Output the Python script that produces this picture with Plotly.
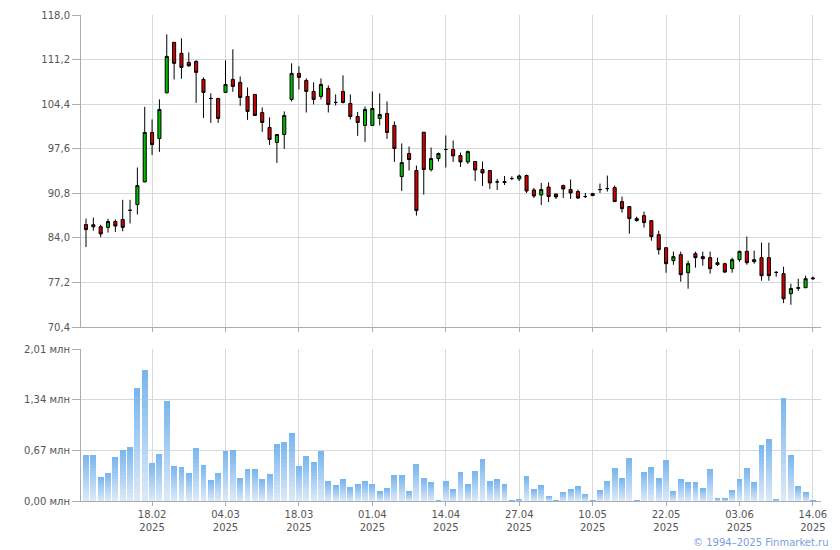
import plotly.graph_objects as go

# ---------------- data ----------------
tick_pos = [9, 19, 29, 39, 49, 59, 69, 79, 89, 99]
tick_dates = ["18.02", "04.03", "18.03", "01.04", "14.04", "27.04", "10.05", "22.05", "03.06", "14.06"]
tick_year = "2025"

price_ticks = [70.4, 77.2, 84.0, 90.8, 97.6, 104.4, 111.2, 118.0]
vol_ticks = [0.0, 0.67, 1.34, 2.01]

opens = [86.02, 86.00, 85.70, 85.60, 86.50, 86.80, 88.20, 89.07, 92.53, 100.08,
         99.16, 106.13, 113.83, 112.15, 110.77, 110.93, 108.17, 105.27, 105.27, 106.19,
         108.17, 107.72, 105.58, 105.88, 103.13, 100.84, 98.55, 99.77, 105.12, 109.09,
         108.02, 106.34, 105.58, 106.80, 104.66, 106.34, 104.51, 102.51, 101.15, 101.15,
         102.22, 102.98, 101.15, 93.35, 96.87, 94.27, 100.12, 94.42, 96.10, 97.48,
         97.48, 96.56, 95.58, 95.65, 94.42, 94.27, 92.53, 92.60, 93.05, 92.99,
         93.51, 91.31, 90.54, 91.76, 90.70, 91.98, 91.37, 91.06, 90.30, 90.45,
         91.37, 91.52, 91.67, 89.53, 88.77, 86.63, 87.39, 86.63, 84.49, 82.50,
         80.52, 81.44, 78.68, 81.59, 81.13, 80.98, 79.91, 80.06, 79.30, 80.67,
         81.94, 80.37, 80.98, 80.98, 78.73, 78.53, 75.48, 76.30, 76.39, 77.75]
highs = [86.94, 87.10, 86.00, 86.90, 86.80, 89.80, 89.80, 94.73, 103.99, 102.06,
         105.12, 115.05, 113.83, 114.44, 112.30, 111.08, 108.48, 106.04, 105.27, 111.08,
         112.76, 108.63, 106.95, 105.95, 103.90, 102.37, 99.77, 103.29, 110.62, 110.16,
         108.33, 107.72, 108.33, 107.26, 105.88, 108.79, 105.88, 103.22, 104.05, 106.34,
         106.04, 104.81, 101.76, 98.40, 97.94, 95.03, 100.12, 97.79, 97.02, 99.62,
         98.85, 97.02, 97.33, 95.65, 95.65, 94.27, 92.99, 93.44, 93.40, 93.66,
         93.66, 91.61, 92.38, 92.48, 90.70, 92.13, 92.90, 91.37, 90.85, 90.85,
         92.28, 93.50, 91.98, 90.30, 88.77, 87.24, 88.00, 86.63, 85.10, 82.50,
         81.90, 81.90, 80.52, 81.90, 81.90, 81.90, 80.98, 80.21, 80.98, 82.05,
         84.20, 82.05, 83.27, 83.27, 78.93, 79.60, 77.00, 77.77, 78.23, 78.10]
lows = [82.60, 85.10, 84.10, 84.80, 84.90, 85.00, 86.20, 87.55, 92.50, 96.65,
        97.11, 106.04, 108.17, 108.27, 110.10, 104.60, 102.30, 101.54, 101.54, 106.19,
        106.28, 104.14, 102.00, 102.60, 100.17, 98.18, 95.43, 97.57, 104.81, 106.65,
        103.13, 104.36, 105.12, 103.13, 104.20, 104.50, 102.06, 99.56, 98.64, 101.15,
        101.15, 99.10, 95.58, 91.15, 94.27, 87.39, 90.60, 94.12, 95.65, 94.73,
        95.58, 94.82, 95.27, 92.68, 91.92, 91.46, 91.31, 92.07, 92.80, 92.68,
        90.85, 90.08, 89.00, 89.47, 89.93, 90.08, 89.93, 89.93, 90.08, 90.40,
        90.85, 91.06, 89.53, 87.85, 84.64, 86.48, 85.56, 83.57, 81.44, 78.68,
        79.90, 77.31, 76.24, 79.45, 79.75, 78.53, 79.70, 78.62, 78.68, 80.37,
        79.90, 80.06, 77.46, 77.46, 78.07, 74.04, 73.80, 75.90, 76.39, 77.60]
closes = [85.26, 85.70, 84.60, 86.50, 85.80, 85.60, 88.20, 91.98, 100.08, 98.24,
          103.59, 111.69, 110.62, 110.01, 110.25, 109.24, 106.19, 105.27, 102.22, 107.41,
          107.10, 105.42, 103.29, 102.67, 101.60, 99.00, 99.77, 102.67, 109.09, 108.48,
          106.34, 105.12, 107.41, 104.35, 104.66, 104.66, 102.51, 101.60, 103.59, 103.74,
          102.83, 100.08, 97.63, 95.49, 95.95, 88.16, 94.42, 96.10, 96.87, 97.48,
          96.50, 95.58, 97.17, 94.35, 93.90, 92.38, 92.53, 92.45, 93.05, 93.44,
          91.15, 90.39, 91.37, 90.30, 90.24, 91.46, 90.85, 90.08, 90.30, 90.75,
          91.37, 91.52, 89.53, 88.46, 86.94, 86.94, 86.33, 84.19, 82.20, 80.06,
          81.13, 78.38, 80.06, 80.98, 80.82, 79.30, 80.21, 78.78, 80.67, 81.94,
          80.21, 80.67, 78.23, 78.23, 78.73, 74.71, 76.28, 76.40, 77.77, 77.85]
volumes = [0.612, 0.612, 0.319, 0.373, 0.586, 0.679, 0.719, 1.491, 1.730, 0.506,
           0.626, 1.318, 0.466, 0.453, 0.373, 0.705, 0.479, 0.280, 0.373, 0.666,
           0.679, 0.306, 0.426, 0.426, 0.293, 0.359, 0.759, 0.785, 0.905, 0.466,
           0.599, 0.519, 0.657, 0.263, 0.207, 0.287, 0.181, 0.220, 0.260, 0.220,
           0.128, 0.168, 0.339, 0.339, 0.128, 0.485, 0.300, 0.247, 0.010, 0.260,
           0.154, 0.379, 0.220, 0.392, 0.551, 0.260, 0.287, 0.220, 0.010, 0.022,
           0.326, 0.154, 0.207, 0.062, 0.010, 0.115, 0.155, 0.195, 0.089, 0.010,
           0.142, 0.262, 0.435, 0.302, 0.568, 0.010, 0.382, 0.448, 0.302, 0.541,
           0.129, 0.288, 0.248, 0.248, 0.169, 0.421, 0.035, 0.035, 0.142, 0.288,
           0.435, 0.248, 0.741, 0.821, 0.022, 1.367, 0.608, 0.195, 0.115, 0.010]

# ---------------- figure ----------------
idx = list(range(len(opens)))
FONT = "DejaVu Sans"
TXT = "#555555"
GRID = "#d5d9de"
AXL = "#a9acb6"

fig = go.Figure()

fig.add_trace(go.Candlestick(
    x=idx, open=opens, high=highs, low=lows, close=closes,
    increasing=dict(fillcolor="#00bb00", line=dict(color="#000000", width=1)),
    decreasing=dict(fillcolor="#d00000", line=dict(color="#000000", width=1)),
    whiskerwidth=0, xaxis="x", yaxis="y", showlegend=False,
))

# volume bars with a vertical gradient: stacked slices of each bar
N = 14
c0 = (0xde, 0xea, 0xf8)  # bottom
c1 = (0x76, 0xb5, 0xef)  # top
for k in range(N):
    t = (k + 0.5) / N
    col = "rgb({},{},{})".format(*[round(a + (b - a) * t) for a, b in zip(c0, c1)])
    fig.add_trace(go.Bar(
        x=idx, y=[v / N for v in volumes], width=0.8,
        marker=dict(color=col, line=dict(width=0)),
        xaxis="x2", yaxis="y2", showlegend=False, hoverinfo="skip",
    ))

xrange = [-0.68, 100.1]
common_x = dict(range=xrange, tickmode="array", tickvals=tick_pos,
                showgrid=True, gridcolor=GRID, gridwidth=1,
                showline=True, linecolor=AXL, linewidth=1, automargin=False,
                ticks="outside", ticklen=4, tickcolor=AXL, zeroline=False)

# page body has an 8px margin, so the figure is 832x542 placed at (8, 8)
fig.update_layout(
    width=832, height=542,
    margin=dict(l=73, r=19, t=7, b=49, autoexpand=False),
    paper_bgcolor="white", plot_bgcolor="white",
    font=dict(family=FONT, size=10, color=TXT),
    barmode="stack", bargap=0, boxgap=0.4,
    xaxis=dict(domain=[0, 1], anchor="y", showticklabels=False,
               rangeslider=dict(visible=False), **common_x),
    xaxis2=dict(domain=[0, 1], anchor="y2", matches="x",
                ticktext=[d + "<br>" + tick_year for d in tick_dates], **common_x),
    yaxis=dict(domain=[174 / 486, 1], range=[70.4, 118.0], automargin=False,
               tickmode="array", tickvals=price_ticks,
               ticktext=[f"{v:.1f}".replace(".", ",") for v in price_ticks],
               showgrid=True, gridcolor=GRID, showline=True, linecolor=AXL,
               ticks="outside", ticklen=8, tickcolor=AXL, zeroline=False),
    yaxis2=dict(domain=[0, 152 / 486], range=[0, 2.01], automargin=False,
                tickmode="array", tickvals=vol_ticks,
                ticktext=[f"{v:.2f}".replace(".", ",") + " млн" for v in vol_ticks],
                showgrid=True, gridcolor=GRID, showline=True, linecolor=AXL,
                ticks="outside", ticklen=8, tickcolor=AXL, zeroline=False),
    annotations=[dict(text="© 1994–2025 Finmarket.ru", xref="paper", yref="paper",
                      x=(831 - 81) / 740, y=(501 - 542.5) / 486,
                      xanchor="right", yanchor="middle", showarrow=False,
                      font=dict(family=FONT, size=10, color="#7c9ee0"))],
)

fig.write_html("out.html")
